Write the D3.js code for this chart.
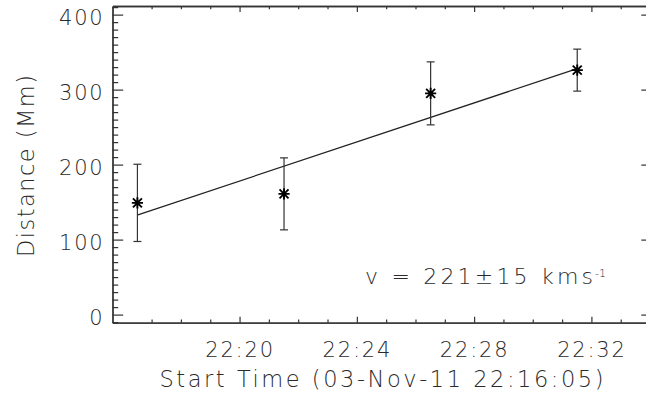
<!DOCTYPE html>
<html>
<head>
<meta charset="utf-8">
<script src="https://cdn.jsdelivr.net/npm/d3@7"></script>
<style>
  html, body { margin: 0; padding: 0; background: #fff; }
  svg { display: block; }
  text { font-family: "DejaVu Sans", sans-serif; font-weight: 200; fill: #2a2a2a; }
</style>
</head>
<body>
<svg id="chart" width="646" height="401"></svg>
<script>
// ---- data ----
const times = ["22:16:31", "22:21:31", "22:26:31", "22:31:31"];
const distances = [149, 161, 295, 326];
const errors = [51.5, 48, 42, 28];
const fitTimes = ["22:16:32", "22:31:31"];
const fitValues = [133, 328];
const xDomain = ["22:15:40", "22:34:04"];
const yDomain = [-10.8, 411.5];
const xMajorTicks = ["22:20", "22:24", "22:28", "22:32"];
const xMinorTicks = ["22:17", "22:18", "22:19", "22:21", "22:22", "22:23", "22:25", "22:26", "22:27",
                     "22:29", "22:30", "22:31", "22:33", "22:34"];
const yMajorTicks = [0, 100, 200, 300, 400];
const yMinorTicks = d3.range(-10, 411, 10).filter(v => v % 100 !== 0);
const xLabel = "Start Time (03-Nov-11 22:16:05)";
const yLabel = "Distance (Mm)";
const velocityText = "v = 221\u00B115 kms";
const velocitySup = "-1";

// ---- helpers ----
const parseT = s => {
  const p = s.split(":").map(Number);
  return new Date(Date.UTC(2011, 10, 3, p[0], p[1], p[2] || 0));
};

const svg = d3.select("#chart");
const L = 112.5, R = 652, T = 6, B = 322.7;
const FONT = "'DejaVu Sans', sans-serif";

const x = d3.scaleUtc().domain(xDomain.map(parseT)).range([L, R]);
const y = d3.scaleLinear().domain(yDomain).range([B, T]);
const fmt = d3.utcFormat("%H:%M");

const axisColor = "#333";

function styleAxis(g) {
  g.select(".domain").attr("stroke", axisColor).attr("stroke-width", 1.3);
  g.selectAll(".tick line").attr("stroke", axisColor).attr("stroke-width", 1.2);
  g.selectAll("text").attr("fill", "#2a2a2a").attr("font-size", 21)
    .attr("font-family", FONT).attr("font-weight", 200)
    .attr("letter-spacing", 1.8);
}

// bottom major with labels
svg.append("g").attr("transform", `translate(0,${B})`)
  .call(d3.axisBottom(x).tickValues(xMajorTicks.map(t => parseT(t))).tickFormat(fmt)
    .tickSizeInner(-6).tickSizeOuter(0).tickPadding(19))
  .call(styleAxis);
// bottom minor
svg.append("g").attr("transform", `translate(0,${B})`)
  .call(d3.axisBottom(x).tickValues(xMinorTicks.map(t => parseT(t))).tickFormat("")
    .tickSizeInner(-3.2).tickSizeOuter(0))
  .call(styleAxis);
// top major / minor
svg.append("g").attr("transform", `translate(0,${T})`)
  .call(d3.axisTop(x).tickValues(xMajorTicks.map(t => parseT(t))).tickFormat("")
    .tickSizeInner(-6).tickSizeOuter(0))
  .call(styleAxis);
svg.append("g").attr("transform", `translate(0,${T})`)
  .call(d3.axisTop(x).tickValues(xMinorTicks.map(t => parseT(t))).tickFormat("")
    .tickSizeInner(-3.2).tickSizeOuter(0))
  .call(styleAxis);
// left major with labels
svg.append("g").attr("transform", `translate(${L},0)`)
  .call(d3.axisLeft(y).tickValues(yMajorTicks).tickFormat(d3.format("d"))
    .tickSizeInner(-10.7).tickSizeOuter(0).tickPadding(8))
  .call(styleAxis)
  .selectAll("text").attr("dy", "0.45em");
svg.append("g").attr("transform", `translate(${L},0)`)
  .call(d3.axisLeft(y).tickValues(yMinorTicks).tickFormat("")
    .tickSizeInner(-5.7).tickSizeOuter(0))
  .call(styleAxis);
// right
svg.append("g").attr("transform", `translate(${R},0)`)
  .call(d3.axisRight(y).tickValues(yMajorTicks).tickFormat("")
    .tickSizeInner(-10.7).tickSizeOuter(0))
  .call(styleAxis);
svg.append("g").attr("transform", `translate(${R},0)`)
  .call(d3.axisRight(y).tickValues(yMinorTicks).tickFormat("")
    .tickSizeInner(-5.7).tickSizeOuter(0))
  .call(styleAxis);

// axis titles
svg.append("text")
  .attr("x", 381.5).attr("y", 387).attr("text-anchor", "middle")
  .attr("font-size", 22.5).attr("textLength", 444).attr("lengthAdjust", "spacing")
  .text(xLabel);
svg.append("text")
  .attr("transform", `translate(33.5,166) rotate(-90)`).attr("text-anchor", "middle")
  .attr("font-size", 22.5).attr("textLength", 182).attr("lengthAdjust", "spacing")
  .text(yLabel);

// fit line
const line = d3.line().x(d => x(d[0])).y(d => y(d[1]));
svg.append("path")
  .datum(fitTimes.map((t, i) => [parseT(t), fitValues[i]]))
  .attr("d", line).attr("fill", "none").attr("stroke", "#222").attr("stroke-width", 1.2);

// error bars
const pts = times.map((t, i) => ({ t: parseT(t), v: distances[i], e: errors[i] }));
const eb = svg.append("g").attr("stroke", "#333").attr("stroke-width", 1.2).attr("fill", "none");
pts.forEach(p => {
  const cx = x(p.t), y1 = y(p.v + p.e), y0 = y(p.v - p.e);
  eb.append("line").attr("x1", cx).attr("x2", cx).attr("y1", y1).attr("y2", y0);
  eb.append("line").attr("x1", cx - 4).attr("x2", cx + 4).attr("y1", y1).attr("y2", y1);
  eb.append("line").attr("x1", cx - 4).attr("x2", cx + 4).attr("y1", y0).attr("y2", y0);
});

// asterisk markers
const s = 5.6;
svg.append("g").selectAll("path").data(pts).join("path")
  .attr("transform", d => `translate(${x(d.t)},${y(d.v)})`)
  .attr("d", `M${-s},0H${s}M0,${-s}V${s}M${-s*0.8},${-s*0.8}L${s*0.8},${s*0.8}M${-s*0.8},${s*0.8}L${s*0.8},${-s*0.8}`)
  .attr("stroke", "#000").attr("stroke-width", 1.9).attr("fill", "none");

// velocity annotation
svg.append("text")
  .attr("x", 365).attr("y", 283.5).attr("font-size", 22)
  .attr("textLength", 228).attr("lengthAdjust", "spacing")
  .text(velocityText);
svg.append("text")
  .attr("x", 595).attr("y", 277).attr("font-size", 11)
  .text(velocitySup);
</script>
</body>
</html>
